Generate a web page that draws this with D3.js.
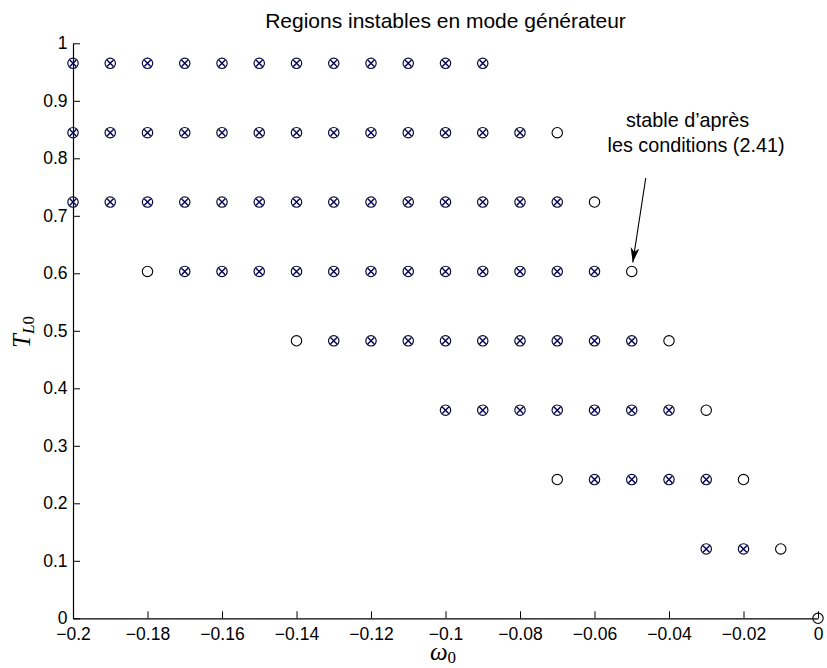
<!DOCTYPE html>
<html>
<head>
<meta charset="utf-8">
<script src="https://cdn.jsdelivr.net/npm/d3@7/dist/d3.min.js"></script>
<style>
  html, body { margin: 0; padding: 0; background: #fff; }
  svg { display: block; }
  .tick text { font-family: "Liberation Sans", Arial, sans-serif; font-size: 17.5px; fill: #000; }
</style>
</head>
<body>
<svg id="chart" width="827" height="668"></svg>
<script>
// Load levels T_L0 (one row of operating points per level)
const levels = [0.1206, 0.2413, 0.3619, 0.4826, 0.6032, 0.7239, 0.8445, 0.9652];

// Unstable operating points (circle with cross): [omega0, T_L0]
const unstable = [
  // T = 0.9652
  [-0.20, 0.9652], [-0.19, 0.9652], [-0.18, 0.9652], [-0.17, 0.9652], [-0.16, 0.9652], [-0.15, 0.9652],
  [-0.14, 0.9652], [-0.13, 0.9652], [-0.12, 0.9652], [-0.11, 0.9652], [-0.10, 0.9652], [-0.09, 0.9652],
  // T = 0.8445
  [-0.20, 0.8445], [-0.19, 0.8445], [-0.18, 0.8445], [-0.17, 0.8445], [-0.16, 0.8445], [-0.15, 0.8445],
  [-0.14, 0.8445], [-0.13, 0.8445], [-0.12, 0.8445], [-0.11, 0.8445], [-0.10, 0.8445], [-0.09, 0.8445],
  [-0.08, 0.8445],
  // T = 0.7239
  [-0.20, 0.7239], [-0.19, 0.7239], [-0.18, 0.7239], [-0.17, 0.7239], [-0.16, 0.7239], [-0.15, 0.7239],
  [-0.14, 0.7239], [-0.13, 0.7239], [-0.12, 0.7239], [-0.11, 0.7239], [-0.10, 0.7239], [-0.09, 0.7239],
  [-0.08, 0.7239], [-0.07, 0.7239],
  // T = 0.6032
  [-0.17, 0.6032], [-0.16, 0.6032], [-0.15, 0.6032], [-0.14, 0.6032], [-0.13, 0.6032], [-0.12, 0.6032],
  [-0.11, 0.6032], [-0.10, 0.6032], [-0.09, 0.6032], [-0.08, 0.6032], [-0.07, 0.6032], [-0.06, 0.6032],
  // T = 0.4826
  [-0.13, 0.4826], [-0.12, 0.4826], [-0.11, 0.4826], [-0.10, 0.4826], [-0.09, 0.4826], [-0.08, 0.4826],
  [-0.07, 0.4826], [-0.06, 0.4826], [-0.05, 0.4826],
  // T = 0.3619
  [-0.10, 0.3619], [-0.09, 0.3619], [-0.08, 0.3619], [-0.07, 0.3619], [-0.06, 0.3619], [-0.05, 0.3619],
  [-0.04, 0.3619],
  // T = 0.2413
  [-0.06, 0.2413], [-0.05, 0.2413], [-0.04, 0.2413], [-0.03, 0.2413],
  // T = 0.1206
  [-0.03, 0.1206], [-0.02, 0.1206]
];

// Stable operating points (plain circle): [omega0, T_L0]
const stable = [
  [-0.07, 0.8445], [-0.06, 0.7239], [-0.18, 0.6032], [-0.05, 0.6032],
  [-0.14, 0.4826], [-0.04, 0.4826], [-0.03, 0.3619], [-0.07, 0.2413],
  [-0.02, 0.2413], [-0.01, 0.1206], [0, 0]
];

// Axis ticks and their labels
const xTicks = [-0.2, -0.18, -0.16, -0.14, -0.12, -0.1, -0.08, -0.06, -0.04, -0.02, 0];
const xTickLabels = ["\u22120.2", "\u22120.18", "\u22120.16", "\u22120.14", "\u22120.12", "\u22120.1",
                     "\u22120.08", "\u22120.06", "\u22120.04", "\u22120.02", "0"];
const yTicks = [0, 0.1, 0.2, 0.3, 0.4, 0.5, 0.6, 0.7, 0.8, 0.9, 1];
const yTickLabels = ["0", "0.1", "0.2", "0.3", "0.4", "0.5", "0.6", "0.7", "0.8", "0.9", "1"];

// Annotated point and its note
const notePoint = [-0.05, 0.6032];
const noteLines = ["stable d\u2019apr\u00e8s", "les conditions (2.41)"];

const svg = d3.select("#chart");
const plotLeft = 73, plotRight = 818, plotTop = 43.3, plotBottom = 618.3;

const x = d3.scaleLinear().domain([-0.2, 0]).range([plotLeft, plotRight]);
const y = d3.scaleLinear().domain([0, 1]).range([plotBottom, plotTop]);

// Axes with inward ticks, no box
const xAxis = d3.axisBottom(x)
  .tickValues(xTicks)
  .tickFormat((d, i) => xTickLabels[i])
  .tickSizeInner(-7).tickSizeOuter(0).tickPadding(9.5);
const yAxis = d3.axisLeft(y)
  .tickValues(yTicks)
  .tickFormat((d, i) => yTickLabels[i])
  .tickSizeInner(-7).tickSizeOuter(0).tickPadding(5.5);

const gx = svg.append("g").attr("transform", `translate(0,${plotBottom})`).call(xAxis);
const gy = svg.append("g").attr("transform", `translate(${plotLeft},0)`).call(yAxis);
[gx, gy].forEach(g => {
  g.select(".domain").attr("stroke", "#000").attr("stroke-width", 1.2);
  g.selectAll(".tick line").attr("stroke", "#000").attr("stroke-width", 1);
});

// Markers
const r = 5.2;
const marks = svg.append("g");

marks.selectAll("circle.stable")
  .data(stable).join("circle")
  .attr("class", "stable")
  .attr("cx", d => x(d[0])).attr("cy", d => y(d[1]))
  .attr("r", r)
  .attr("fill", "none").attr("stroke", "#000").attr("stroke-width", 1.1);

const u = marks.selectAll("g.unstable")
  .data(unstable).join("g")
  .attr("class", "unstable")
  .attr("transform", d => `translate(${x(d[0])},${y(d[1])})`);
u.append("circle")
  .attr("r", r)
  .attr("fill", "none").attr("stroke", "#0c0c36").attr("stroke-width", 1.2);
const c = r * 0.62;
u.append("path")
  .attr("d", `M${-c},${-c}L${c},${c}M${-c},${c}L${c},${-c}`)
  .attr("stroke", "#000058").attr("stroke-width", 1.4).attr("fill", "none");

// Title
svg.append("text")
  .attr("x", (plotLeft + plotRight) / 2).attr("y", 28)
  .attr("text-anchor", "middle")
  .attr("font-family", "Liberation Sans, Arial, sans-serif")
  .attr("font-size", 21)
  .text("Regions instables en mode g\u00e9n\u00e9rateur");

// Axis labels
const xl = svg.append("text")
  .attr("x", 443).attr("y", 660)
  .attr("text-anchor", "middle")
  .attr("font-family", "Liberation Serif, Times New Roman, serif")
  .attr("font-size", 25);
xl.append("tspan").attr("font-style", "italic").text("\u03c9");
xl.append("tspan").attr("font-size", 17).attr("dy", 3).text("0");

const yl = svg.append("text")
  .attr("transform", "translate(30,332) rotate(-90)")
  .attr("text-anchor", "middle")
  .attr("font-family", "Liberation Serif, Times New Roman, serif")
  .attr("font-size", 25);
yl.append("tspan").attr("font-style", "italic").text("T");
yl.append("tspan").attr("font-style", "italic").attr("font-size", 17).attr("dy", 4).text("L");
yl.append("tspan").attr("font-size", 17).text("0");

// Annotation with arrow
svg.append("defs").append("marker")
  .attr("id", "head")
  .attr("viewBox", "0 0 10 10")
  .attr("refX", 10).attr("refY", 5)
  .attr("markerWidth", 15).attr("markerHeight", 9)
  .attr("markerUnits", "userSpaceOnUse")
  .attr("orient", "auto")
  .attr("preserveAspectRatio", "none")
  .append("path")
  .attr("d", "M0,0L10,5L0,10L3,5Z")
  .attr("fill", "#000");

const tipX = x(notePoint[0]) + 1, tipY = y(notePoint[1]) - 9;
svg.append("line")
  .attr("x1", tipX + 13).attr("y1", 178)
  .attr("x2", tipX).attr("y2", tipY)
  .attr("stroke", "#000").attr("stroke-width", 1.1)
  .attr("marker-end", "url(#head)");

const note = svg.append("g")
  .attr("font-family", "Liberation Sans, Arial, sans-serif")
  .attr("font-size", 19.8);
note.append("text").attr("x", 687.5).attr("y", 126.7).attr("text-anchor", "middle").text(noteLines[0]);
note.append("text").attr("x", 696).attr("y", 151.5).attr("text-anchor", "middle").text(noteLines[1]);
</script>
</body>
</html>
